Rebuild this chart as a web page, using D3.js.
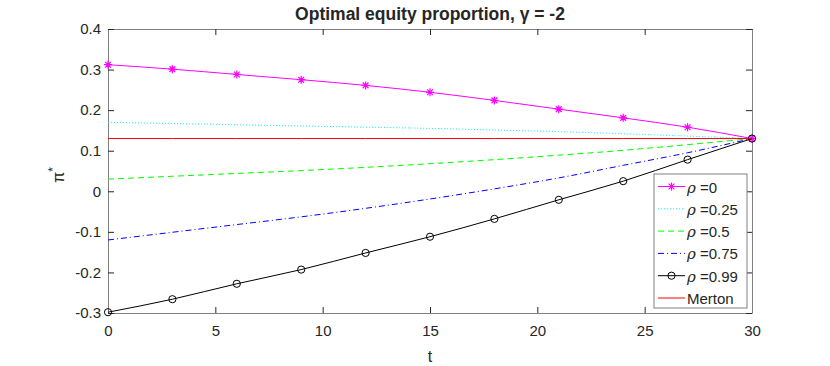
<!DOCTYPE html>
<html>
<head>
<meta charset="utf-8">
<script src="https://cdn.jsdelivr.net/npm/d3@7"></script>
<style>
  body { margin: 0; background: #fff; }
  text { font-family: "Liberation Sans", Arial, sans-serif; fill: #262626; }
</style>
</head>
<body>
<div id="chart"></div>
<script>
const w = 830,
      h = 366;

const margin = {top: 29, right: 78, bottom: 53, left: 108};

// data
const tValues = [0, 3, 6, 9, 12, 15, 18, 21, 24, 27, 30];
const rho0   = [0.312, 0.301, 0.288, 0.275, 0.261, 0.244, 0.224, 0.2025, 0.181, 0.158, 0.13];
const rho025 = [0.170, 0.167, 0.164, 0.161, 0.158, 0.155, 0.151, 0.147, 0.142, 0.136, 0.13];
const rho05  = [0.030, 0.037, 0.044, 0.051, 0.059, 0.068, 0.078, 0.089, 0.101, 0.115, 0.13];
const rho075 = [-0.120, -0.101, -0.082, -0.063, -0.042, -0.019, 0.006, 0.033, 0.064, 0.095, 0.13];
const rho099 = [-0.298, -0.266, -0.228, -0.193, -0.152, -0.112, -0.068, -0.021, 0.025, 0.078, 0.13];
const merton = [0.13, 0.13, 0.13, 0.13, 0.13, 0.13, 0.13, 0.13, 0.13, 0.13, 0.13];

const legendLabels = ["0", "0.25", "0.5", "0.75", "0.99", "Merton"];
const xTicks = [0, 5, 10, 15, 20, 25, 30];
const yTicks = [-0.3, -0.2, -0.1, 0, 0.1, 0.2, 0.3, 0.4];
const yTickLabels = ["-0.3", "-0.2", "-0.1", "0", "0.1", "0.2", "0.3", "0.4"];

const series = [
  {values: rho0,   color: "#ff00ff", dash: null,      marker: "star"},
  {values: rho025, color: "#00ffff", dash: "1,2",     marker: null},
  {values: rho05,  color: "#00ff00", dash: "6,4",     marker: null},
  {values: rho075, color: "#0000ff", dash: "6,3,1,3", marker: null},
  {values: rho099, color: "#000000", dash: null,      marker: "circle"},
  {values: merton, color: "#ff0000", dash: null,      marker: null}
];

const pw = w - margin.left - margin.right,
      ph = h - margin.top - margin.bottom;

const svg = d3.select("#chart")
  .append("svg")
  .attr("width", w)
  .attr("height", h);

const x = d3.scaleLinear().domain([0, 30]).range([margin.left, margin.left + pw]);
const y = d3.scaleLinear().domain([-0.3, 0.4]).range([margin.top + ph, margin.top]);

// axes, MATLAB style box with inward ticks
const axisColor = "#808080";

function styleAxis(g) {
  g.selectAll("path.domain").attr("stroke", axisColor).attr("stroke-width", 1);
  g.selectAll(".tick line").attr("stroke", "#262626").attr("stroke-width", 1);
  g.selectAll("text").style("font-size", "15px").attr("fill", "#262626");
}

svg.append("g")
  .attr("transform", "translate(0," + (margin.top + ph) + ")")
  .call(d3.axisBottom(x).tickValues(xTicks).tickSizeInner(-6).tickSizeOuter(0).tickPadding(12))
  .call(styleAxis);

svg.append("g")
  .attr("transform", "translate(0," + margin.top + ")")
  .call(d3.axisTop(x).tickValues(xTicks).tickSizeInner(-6).tickSizeOuter(0).tickFormat(""))
  .call(styleAxis);

svg.append("g")
  .attr("transform", "translate(" + margin.left + ",0)")
  .call(d3.axisLeft(y).tickValues(yTicks).tickSizeInner(-6).tickSizeOuter(0).tickPadding(7)
        .tickFormat((d, i) => yTickLabels[i]))
  .call(styleAxis);

svg.append("g")
  .attr("transform", "translate(" + (margin.left + pw) + ",0)")
  .call(d3.axisRight(y).tickValues(yTicks).tickSizeInner(-6).tickSizeOuter(0).tickFormat(""))
  .call(styleAxis);

// lines
const line = d3.line()
  .x((d, i) => x(tValues[i]))
  .y(d => y(d))
  .curve(d3.curveMonotoneX);

function starPath(cx, cy, r) {
  const d = r * 0.72;
  return "M" + (cx - r) + "," + cy + "H" + (cx + r) +
         "M" + cx + "," + (cy - r) + "V" + (cy + r) +
         "M" + (cx - d) + "," + (cy - d) + "L" + (cx + d) + "," + (cy + d) +
         "M" + (cx - d) + "," + (cy + d) + "L" + (cx + d) + "," + (cy - d);
}

function drawMarker(g, kind, cx, cy, color) {
  if (kind === "star") {
    g.append("path")
      .attr("d", starPath(cx, cy, 4))
      .attr("stroke", color)
      .attr("stroke-width", 1.2)
      .attr("fill", "none");
  } else if (kind === "circle") {
    g.append("circle")
      .attr("cx", cx)
      .attr("cy", cy)
      .attr("r", 3.6)
      .attr("stroke", color)
      .attr("stroke-width", 1)
      .attr("fill", "none");
  }
}

const plot = svg.append("g");

series.forEach(s => {
  plot.append("path")
    .datum(s.values)
    .attr("d", line)
    .attr("fill", "none")
    .attr("stroke", s.color)
    .attr("stroke-width", 1)
    .attr("stroke-dasharray", s.dash);

  if (s.marker) {
    s.values.forEach((v, i) => drawMarker(plot, s.marker, x(tValues[i]), y(v), s.color));
  }
});

// title and labels
svg.append("text")
  .attr("x", margin.left + pw / 2)
  .attr("y", 20)
  .attr("text-anchor", "middle")
  .style("font-size", "17.5px")
  .style("font-weight", "bold")
  .text("Optimal equity proportion, γ = -2");

svg.append("text")
  .attr("x", margin.left + pw / 2)
  .attr("y", 362)
  .attr("text-anchor", "middle")
  .style("font-size", "16px")
  .text("t");

const yl = svg.append("text")
  .attr("transform", "translate(64,175) rotate(-90)")
  .attr("text-anchor", "middle")
  .style("font-size", "16px");
yl.append("tspan").text("π");
yl.append("tspan").attr("dy", -7).style("font-size", "12px").text("*");

// legend
const lg = svg.append("g");
const lgX = 654, lgY = 174, lgW = 93, lgH = 134;

lg.append("rect")
  .attr("x", lgX)
  .attr("y", lgY)
  .attr("width", lgW)
  .attr("height", lgH)
  .attr("fill", "#fff")
  .attr("stroke", axisColor)
  .attr("stroke-width", 1);

series.forEach((s, i) => {
  const ry = lgY + 12.5 + i * 22.3;
  lg.append("line")
    .attr("x1", lgX + 4)
    .attr("x2", lgX + 31)
    .attr("y1", ry)
    .attr("y2", ry)
    .attr("stroke", s.color)
    .attr("stroke-width", 1)
    .attr("stroke-dasharray", s.dash);
  if (s.marker) drawMarker(lg, s.marker, lgX + 17.5, ry, s.color);

  const t = lg.append("text")
    .attr("x", lgX + 33)
    .attr("y", ry + 6)
    .style("font-size", "15px");
  if (legendLabels[i] === "Merton") {
    t.text("Merton");
  } else {
    t.append("tspan").style("font-family", "'DejaVu Serif', serif").style("font-style", "italic").text("ρ");
    t.append("tspan").text(" =" + legendLabels[i]);
  }
});
</script>
</body>
</html>
